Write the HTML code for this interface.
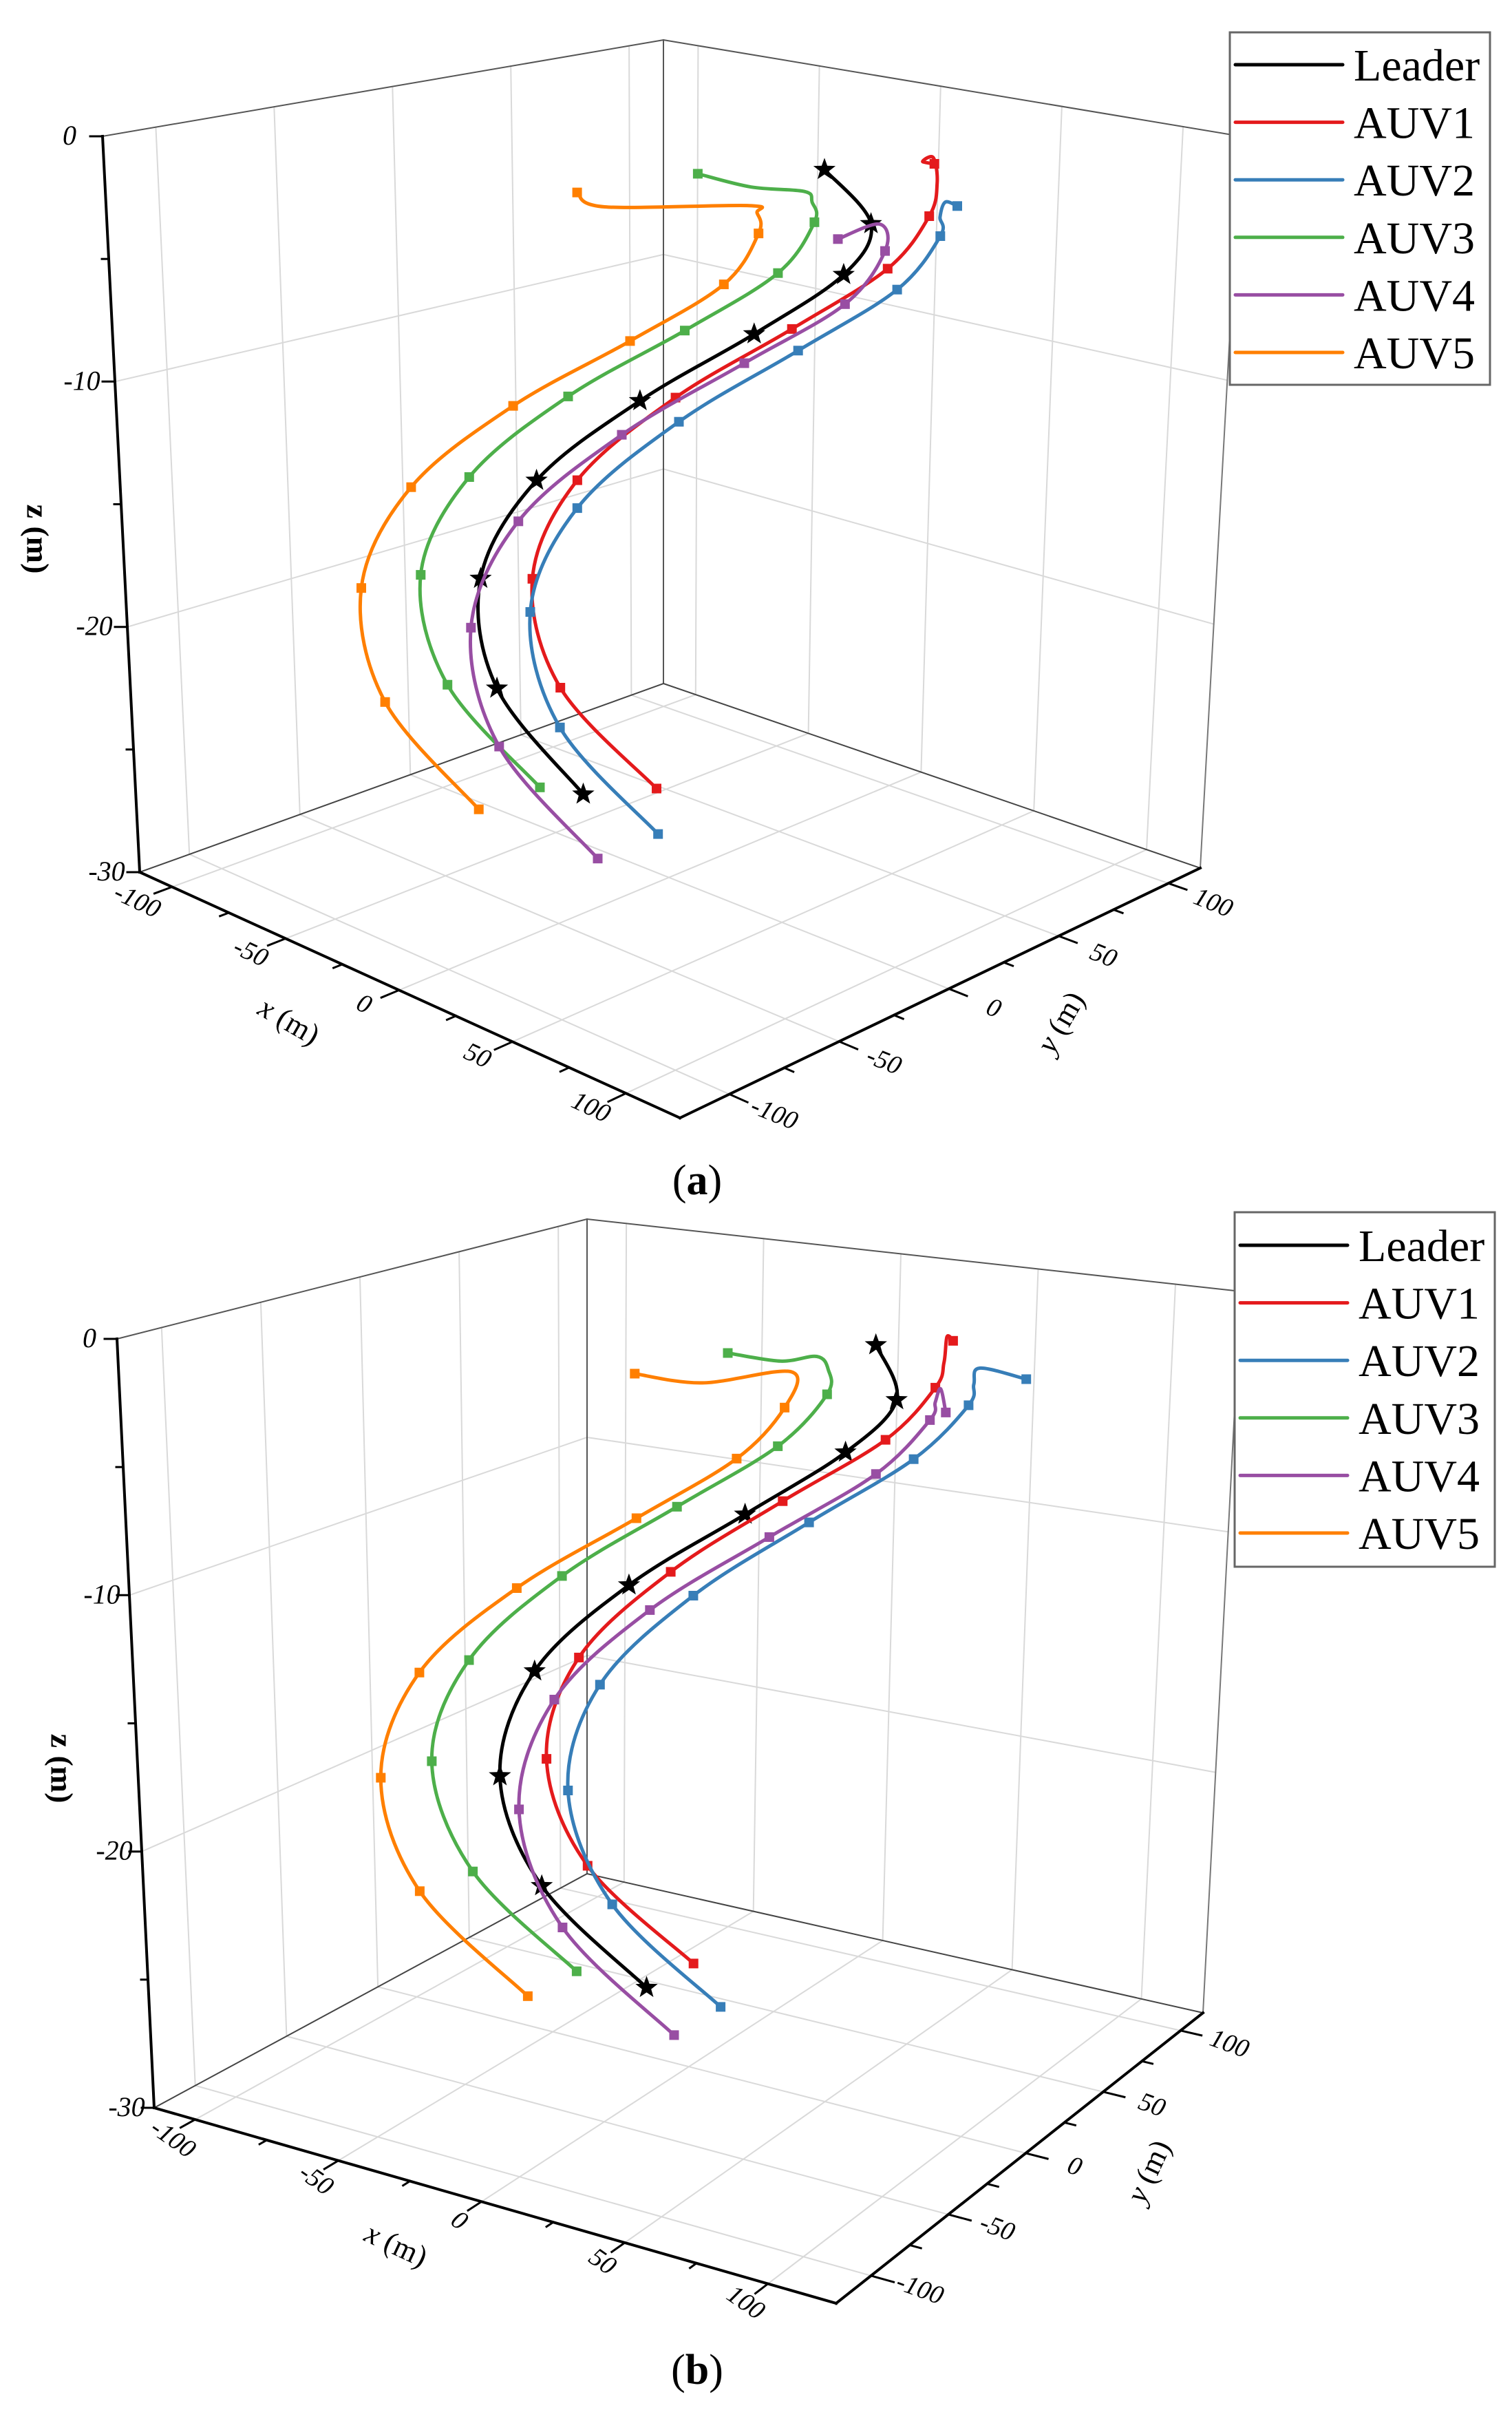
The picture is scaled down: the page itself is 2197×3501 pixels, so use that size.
<!DOCTYPE html>
<html><head><meta charset="utf-8"><title>AUV formation trajectories</title>
<style>
html,body{margin:0;padding:0;background:#fff;}
svg{display:block;font-family:"Liberation Serif",serif;}
</style></head>
<body>
<svg id="fig" xmlns="http://www.w3.org/2000/svg" width="2197" height="3501" viewBox="0 0 2197 3501">
<rect x="0" y="0" width="2197" height="3501" fill="#fff"/>
</svg>
<script>
// ---------- data (m) ----------
const X_DOMAIN = [-114.3, 123.8];
const Y_DOMAIN = [-122.5, 114.5];
const Z_DOMAIN = [-30, 0];
const tickValuesXY = [-100, -50, 0, 50, 100];
const tickValuesZ = [0, -10, -20, -30];
const seriesNames = ["Leader", "AUV1", "AUV2", "AUV3", "AUV4", "AUV5"];

// plot (a)
const depthA = [-1, -3.5, -6, -9, -12, -15, -18.5, -22, -25.5];
const leaderAX = [20.5, 29.5, 17.1, -12.2, -40.2, -55.8, -57.3, -37.9, -6.5];
const leaderAY = [49.6, 61.5, 61.8, 51.2, 28.1, -2.8, -26.6, -39.1, -32.2];
const auv1AX = [45.8, 39.8, 24.4, -6.5, -34.4, -47.3, -46.3, -24.7, 6.7];
const auv1AY = [73.6, 77.4, 74.3, 62.5, 38.3, 7.0, -14.4, -23.9, -12.5];
const auv1AHookX = [23.8, 24.1, 43.8];
const auv1AHookY = [90.8, 95.4, 76.9];
const auv1AHookZ = [-2, -2, -2];
const auv2AX = [80.0, 56.4, 41.1, 9.7, -17.6, -29.8, -27.1, -2.5, 31.6];
const auv2AY = [48.9, 65.4, 61.5, 48.7, 22.6, -11.0, -35.1, -46.9, -37.4];
const auv2AHookX = [58.8, 67.1];
const auv2AHookY = [65.2, 54.3];
const auv2AHookZ = [-2, -2];
const auv3AX = [-7.4, 13.8, -0.4, -30.8, -58.7, -71.7, -71.6, -50.2, -19.7];
const auv3AY = [20.7, 51.9, 49.9, 38.8, 14.5, -17.0, -39.1, -48.9, -38.3];
const auv3AHookX = [-1.9, 14.4, 23.6];
const auv3AHookY = [39.3, 46.8, 40.8];
const auv3AHookZ = [-2, -2, -2];
const auv4AX = [68.6, 51.3, 37.1, 5.0, -22.0, -34.2, -30.4, -5.1, 31.0];
const auv4AY = [6.3, 45.5, 41.9, 29.1, 1.2, -33.2, -58.6, -71.8, -64.2];
const auv4AHookX = [55.5];
const auv4AHookY = [38.8];
const auv4AHookZ = [-2];
const auv5AX = [-20.9, 7.8, -5.6, -35.8, -63.7, -76.7, -75.3, -53.1, -20.8];
const auv5AY = [-20.2, 32.7, 30.7, 19.1, -5.3, -38.2, -62.2, -74.2, -64.9];
const auv5AHookX = [-21.3, 10.5, 17.4];
const auv5AHookY = [-7.3, 25.6, 22.2];
const auv5AHookZ = [-2, -2, -2];

// plot (b)
const depthB = [-1, -3.5, -6, -9, -12, -15, -18.5, -22, -25.5];
const leaderBX = [37.2, 40.9, 22.9, -9.3, -39.8, -55.8, -54.1, -32.4, 1.1];
const leaderBY = [52.0, 58.6, 56.6, 47.8, 27.8, -1.4, -23.8, -34.1, -26.8];
const auv1BX = [57.5, 46.0, 27.9, -6.0, -36.0, -51.7, -50.8, -29.8, 3.3];
const auv1BY = [66.3, 74.0, 72.7, 64.8, 46.0, 17.5, -2.4, -11.7, -2.6];
const auv1BHookX = [41.3, 53.9];
const auv1BHookY = [88.6, 66.5];
const auv1BHookZ = [-2, -2];
const auv2BX = [97.1, 64.5, 45.8, 12.4, -17.6, -32.8, -30.6, -6.8, 28.0];
const auv2BY = [46.3, 64.4, 61.1, 51.5, 30.5, 0.2, -21.8, -34.2, -26.8];
const auv2BHookX = [67.1, 73.1];
const auv2BHookY = [67.0, 53.5];
const auv2BHookZ = [-2, -2];
const auv3BX = [1.1, 18.3, 0.9, -31.6, -61.7, -77.4, -77.6, -55.7, -23.5];
const auv3BY = [21.2, 52.9, 51.1, 42.8, 23.2, -5.2, -25.8, -36.7, -28.1];
const auv3BHookX = [6.6, 14.1, 24.2];
const auv3BHookY = [43.6, 53.4, 44.1];
const auv3BHookZ = [-2, -2, -2];
const auv4BX = [88.5, 60.3, 42.3, 8.9, -21.6, -36.9, -34.0, -9.5, 27.1];
const auv4BY = [10.1, 47.4, 43.8, 33.4, 11.5, -19.7, -44.7, -59.0, -53.3];
const auv4BHookX = [65.6, 70.4];
const auv4BHookY = [45.3, 34.0];
const auv4BHookZ = [-2, -2];
const auv5BX = [-11.2, 13.6, -3.6, -35.8, -66.2, -82.6, -81.5, -59.6, -25.3];
const auv5BY = [-13.9, 35.0, 33.9, 25.9, 4.5, -25.0, -48.3, -60.7, -53.6];
const auv5BHookX = [-2.2, 15.4];
const auv5BHookY = [11.5, 36.2];
const auv5BHookZ = [-2, -2];

// ---------- rendering ----------
const NS = "http://www.w3.org/2000/svg";
const svg = document.getElementById("fig");
const COLORS = ["#000000", "#e41a1c", "#377eb8", "#4daf4a", "#984ea3", "#ff7f00"];

function mk(tag, attrs, parent) {
  const e = document.createElementNS(NS, tag);
  for (const k in attrs) e.setAttribute(k, attrs[k]);
  parent.appendChild(e);
  return e;
}

const plots = [
  {
    id: "a",
    floor: {L: [203, 1267], B: [964, 993], R: [1744, 1261], F: [988, 1624]},
    top: {L: [149, 198], B: [964, 58], R: [1803, 198], F: [988, 575]},
    dataTop: {L: [203, 198], B: [964, 58], R: [1744, 198], F: [988, 575]},
    xLabOff: [-52, 23], yLabOff: [64, 31], zLabOff: [-48, 12],
    xLabRot: 25, yLabRot: 22,
    xTitle: [418, 1487, 30], yTitle: [1545, 1487, -60], zTitle: [50, 783],
    legend: {x: 1787, y: 47, w: 378, h: 512, y0: 94},
    caption: [1013, 1735],
    depth: depthA,
    series: [
      {x: leaderAX, y: leaderAY, hx: [], hy: [], hz: []},
      {x: auv1AX, y: auv1AY, hx: auv1AHookX, hy: auv1AHookY, hz: auv1AHookZ},
      {x: auv2AX, y: auv2AY, hx: auv2AHookX, hy: auv2AHookY, hz: auv2AHookZ},
      {x: auv3AX, y: auv3AY, hx: auv3AHookX, hy: auv3AHookY, hz: auv3AHookZ},
      {x: auv4AX, y: auv4AY, hx: auv4AHookX, hy: auv4AHookY, hz: auv4AHookZ},
      {x: auv5AX, y: auv5AY, hx: auv5AHookX, hy: auv5AHookY, hz: auv5AHookZ}
    ]
  },
  {
    id: "b",
    floor: {L: [224, 3062], B: [853, 2722], R: [1748, 2924], F: [1215, 3346]},
    top: {L: [170, 1945], B: [853, 1771], R: [1803, 1876], F: [1215, 2262]},
    dataTop: {L: [224, 1945], B: [853, 1771], R: [1748, 1876], F: [1215, 2262]},
    xLabOff: [-34, 30], yLabOff: [70, 22], zLabOff: [-40, 12],
    xLabRot: 35, yLabRot: 20,
    xTitle: [574, 3265, 25], yTitle: [1673, 3156, -65], zTitle: [85, 2569],
    legend: {x: 1794, y: 1761, w: 378, h: 515, y0: 1809},
    caption: [1013, 3463],
    depth: depthB,
    series: [
      {x: leaderBX, y: leaderBY, hx: [], hy: [], hz: []},
      {x: auv1BX, y: auv1BY, hx: auv1BHookX, hy: auv1BHookY, hz: auv1BHookZ},
      {x: auv2BX, y: auv2BY, hx: auv2BHookX, hy: auv2BHookY, hz: auv2BHookZ},
      {x: auv3BX, y: auv3BY, hx: auv3BHookX, hy: auv3BHookY, hz: auv3BHookZ},
      {x: auv4BX, y: auv4BY, hx: auv4BHookX, hy: auv4BHookY, hz: auv4BHookZ},
      {x: auv5BX, y: auv5BY, hx: auv5BHookX, hy: auv5BHookY, hz: auv5BHookZ}
    ]
  }
];

function bil(q, tx, ty) {
  const a = (1 - tx) * (1 - ty), b = tx * (1 - ty), c = tx * ty, d = (1 - tx) * ty;
  return [q.L[0] * a + q.F[0] * b + q.R[0] * c + q.B[0] * d,
          q.L[1] * a + q.F[1] * b + q.R[1] * c + q.B[1] * d];
}
function projectWith(p, topQ, x, y, z) {
  const tx = (x - X_DOMAIN[0]) / (X_DOMAIN[1] - X_DOMAIN[0]);
  const ty = (y - Y_DOMAIN[0]) / (Y_DOMAIN[1] - Y_DOMAIN[0]);
  const s = (z - Z_DOMAIN[0]) / (Z_DOMAIN[1] - Z_DOMAIN[0]);
  const f = bil(p.floor, tx, ty), t = bil(topQ, tx, ty);
  return [f[0] + (t[0] - f[0]) * s, f[1] + (t[1] - f[1]) * s];
}
function project(p, x, y, z) { return projectWith(p, p.top, x, y, z); }
function projectData(p, x, y, z) { return projectWith(p, p.dataTop, x, y, z); }
function line(g, a, b, stroke, w) {
  return mk("line", {x1: a[0].toFixed(1), y1: a[1].toFixed(1), x2: b[0].toFixed(1), y2: b[1].toFixed(1), stroke: stroke, "stroke-width": w, "stroke-linecap": "square"}, g);
}
function smoothPath(pts) {
  let d = "M" + pts[0][0].toFixed(1) + "," + pts[0][1].toFixed(1);
  for (let i = 0; i < pts.length - 1; i++) {
    const p0 = pts[Math.max(0, i - 1)], p1 = pts[i], p2 = pts[i + 1], p3 = pts[Math.min(pts.length - 1, i + 2)];
    const c1 = [p1[0] + (p2[0] - p0[0]) / 6, p1[1] + (p2[1] - p0[1]) / 6];
    const c2 = [p2[0] - (p3[0] - p1[0]) / 6, p2[1] - (p3[1] - p1[1]) / 6];
    d += " C" + c1[0].toFixed(1) + "," + c1[1].toFixed(1) + " " + c2[0].toFixed(1) + "," + c2[1].toFixed(1) + " " + p2[0].toFixed(1) + "," + p2[1].toFixed(1);
  }
  return d;
}
function starPath(cx, cy, R, r) {
  let d = "";
  for (let i = 0; i < 10; i++) {
    const ang = -Math.PI / 2 + i * Math.PI / 5;
    const rad = i % 2 === 0 ? R : r;
    d += (i === 0 ? "M" : "L") + (cx + rad * Math.cos(ang)).toFixed(1) + "," + (cy + rad * Math.sin(ang)).toFixed(1);
  }
  return d + "Z";
}

plots.forEach(function (p) {
  const X0 = X_DOMAIN[0], X1 = X_DOMAIN[1], Y0 = Y_DOMAIN[0], Y1 = Y_DOMAIN[1], ZB = Z_DOMAIN[0], ZT = Z_DOMAIN[1];
  const g = mk("g", {}, svg);
  
  

  // grid
  const grid = mk("g", {}, g);
  
  
  const GC = "#d9d9d9", GW = 2;
  tickValuesXY.forEach(function (v) {
    line(grid, project(p, v, Y0, ZB), project(p, v, Y1, ZB), GC, GW);
    line(grid, project(p, X0, v, ZB), project(p, X1, v, ZB), GC, GW);
    line(grid, project(p, X0, v, ZB), project(p, X0, v, ZT), GC, GW);
    line(grid, project(p, v, Y1, ZB), project(p, v, Y1, ZT), GC, GW);
  });
  tickValuesZ.forEach(function (v) {
    if (v === ZB || v === ZT) return;
    line(grid, project(p, X0, Y0, v), project(p, X0, Y1, v), GC, GW);
    line(grid, project(p, X0, Y1, v), project(p, X1, Y1, v), GC, GW);
  });

  // box frame
  const frame = mk("g", {}, g);
  
  
  line(frame, project(p, X0, Y0, ZT), project(p, X0, Y1, ZT), "#555", 2);
  line(frame, project(p, X0, Y1, ZT), project(p, X1, Y1, ZT), "#555", 2);
  line(frame, project(p, X0, Y1, ZB), project(p, X0, Y1, ZT), "#555", 2);
  line(frame, project(p, X1, Y1, ZB), project(p, X1, Y1, ZT), "#777", 2);
  line(frame, project(p, X0, Y0, ZB), project(p, X0, Y1, ZB), "#444", 2);
  line(frame, project(p, X0, Y1, ZB), project(p, X1, Y1, ZB), "#444", 2);

  // axes
  const zAxis = mk("g", {}, g);
  
  
  line(zAxis, project(p, X0, Y0, ZT), project(p, X0, Y0, ZB), "#000", 4);
  for (let v = ZT; v >= ZB; v -= 5) {
    const a = project(p, X0, Y0, v);
    const len = (v % 10 === 0) ? 18 : 10;
    line(zAxis, a, [a[0] - len, a[1]], "#000", 3);
  }
  tickValuesZ.forEach(function (v) {
    const a = project(p, X0, Y0, v);
    const t = mk("text", {x: (a[0] + p.zLabOff[0]).toFixed(1), y: (a[1] + p.zLabOff[1]).toFixed(1), "font-size": 40, "text-anchor": "middle", "font-style": "italic", fill: "#000"}, zAxis);
    
    
    t.textContent = String(v);
  });

  const xAxis = mk("g", {}, g);
  
  
  line(xAxis, project(p, X0, Y0, ZB), project(p, X1, Y0, ZB), "#000", 4);
  for (let v = -100; v <= 100; v += 25) {
    const len = (v % 50 === 0) ? 8 : 4;
    line(xAxis, project(p, v, Y0, ZB), project(p, v, Y0 - len, ZB), "#000", 3);
  }
  tickValuesXY.forEach(function (v) {
    const a = project(p, v, Y0, ZB);
    const lx = a[0] + p.xLabOff[0], ly = a[1] + p.xLabOff[1];
    const t = mk("text", {x: lx.toFixed(1), y: ly.toFixed(1), "font-size": 38, "text-anchor": "middle", "dominant-baseline": "middle", "font-style": "italic", fill: "#000", transform: "rotate(" + p.xLabRot + " " + lx.toFixed(1) + " " + ly.toFixed(1) + ")"}, xAxis);
    
    
    t.textContent = String(v);
  });

  const yAxis = mk("g", {}, g);
  
  
  line(yAxis, project(p, X1, Y0, ZB), project(p, X1, Y1, ZB), "#000", 4);
  for (let v = -100; v <= 100; v += 25) {
    const len = (v % 50 === 0) ? 8 : 4;
    line(yAxis, project(p, X1, v, ZB), project(p, X1 + len, v, ZB), "#000", 3);
  }
  tickValuesXY.forEach(function (v) {
    const a = project(p, X1, v, ZB);
    const lx = a[0] + p.yLabOff[0], ly = a[1] + p.yLabOff[1];
    const t = mk("text", {x: lx.toFixed(1), y: ly.toFixed(1), "font-size": 38, "text-anchor": "middle", "dominant-baseline": "middle", "font-style": "italic", fill: "#000", transform: "rotate(" + p.yLabRot + " " + lx.toFixed(1) + " " + ly.toFixed(1) + ")"}, yAxis);
    
    
    t.textContent = String(v);
  });

  // axis titles
  const xt = mk("text", {x: p.xTitle[0], y: p.xTitle[1], "font-size": 44, "text-anchor": "middle", "dominant-baseline": "middle", fill: "#000", transform: "rotate(" + p.xTitle[2] + " " + p.xTitle[0] + " " + p.xTitle[1] + ")"}, g);
  
  
  xt.innerHTML = '<tspan font-style="italic">x</tspan> (m)';
  const yt = mk("text", {x: p.yTitle[0], y: p.yTitle[1], "font-size": 44, "text-anchor": "middle", "dominant-baseline": "middle", fill: "#000", transform: "rotate(" + p.yTitle[2] + " " + p.yTitle[0] + " " + p.yTitle[1] + ")"}, g);
  
  
  yt.innerHTML = '<tspan font-style="italic">y</tspan> (m)';
  const zt = mk("text", {x: p.zTitle[0], y: p.zTitle[1], "font-size": 46, "font-weight": "bold", "text-anchor": "middle", "dominant-baseline": "middle", fill: "#000", transform: "rotate(90 " + p.zTitle[0] + " " + p.zTitle[1] + ")"}, g);
  
  
  zt.textContent = "z (m)";

  // series
  p.series.forEach(function (s, si) {
    const sg = mk("g", {}, g);
    
    
    const pts = [];
    pts.push(projectData(p, s.x[0], s.y[0], p.depth[0]));
    for (let h = 0; h < s.hx.length; h++) pts.push(projectData(p, s.hx[h], s.hy[h], s.hz[h]));
    for (let i = 1; i < s.x.length; i++) pts.push(projectData(p, s.x[i], s.y[i], p.depth[i]));
    const path = mk("path", {d: smoothPath(pts), fill: "none", stroke: COLORS[si], "stroke-width": 5, "stroke-linejoin": "round", "stroke-linecap": "round"}, sg);
    
    
    for (let i = 0; i < s.x.length; i++) {
      const c = projectData(p, s.x[i], s.y[i], p.depth[i]);
      let m;
      if (si === 0) {
        m = mk("path", {d: starPath(c[0], c[1], 17, 7), fill: "#000"}, sg);
        
        
      } else {
        m = mk("rect", {x: (c[0] - 7).toFixed(1), y: (c[1] - 7).toFixed(1), width: 14, height: 14, fill: COLORS[si]}, sg);
        
        
      }
    }
  });

  // legend
  const L = p.legend;
  const lg = mk("g", {}, g);
  
  
  const lr = mk("rect", {x: L.x, y: L.y, width: L.w, height: L.h, fill: "#fff", stroke: "#666", "stroke-width": 3}, lg);
  
  
  seriesNames.forEach(function (n, i) {
    const yy = L.y0 + i * 83.6;
    const eg = mk("g", {}, lg);
    
    
    mk("line", {x1: L.x + 8, y1: yy, x2: L.x + 164, y2: yy, stroke: COLORS[i], "stroke-width": 5, "stroke-linecap": "round"}, eg);
    const t = mk("text", {x: L.x + 180, y: yy + 23, "font-size": 66, fill: "#000"}, eg);
    
    
    t.textContent = n;
  });

  // caption
  const cap = mk("text", {x: p.caption[0], y: p.caption[1], "font-size": 62, "text-anchor": "middle", fill: "#000"}, g);
  
  
  cap.innerHTML = '(<tspan font-weight="bold">' + p.id + '</tspan>)';
});
</script>
</body></html>
